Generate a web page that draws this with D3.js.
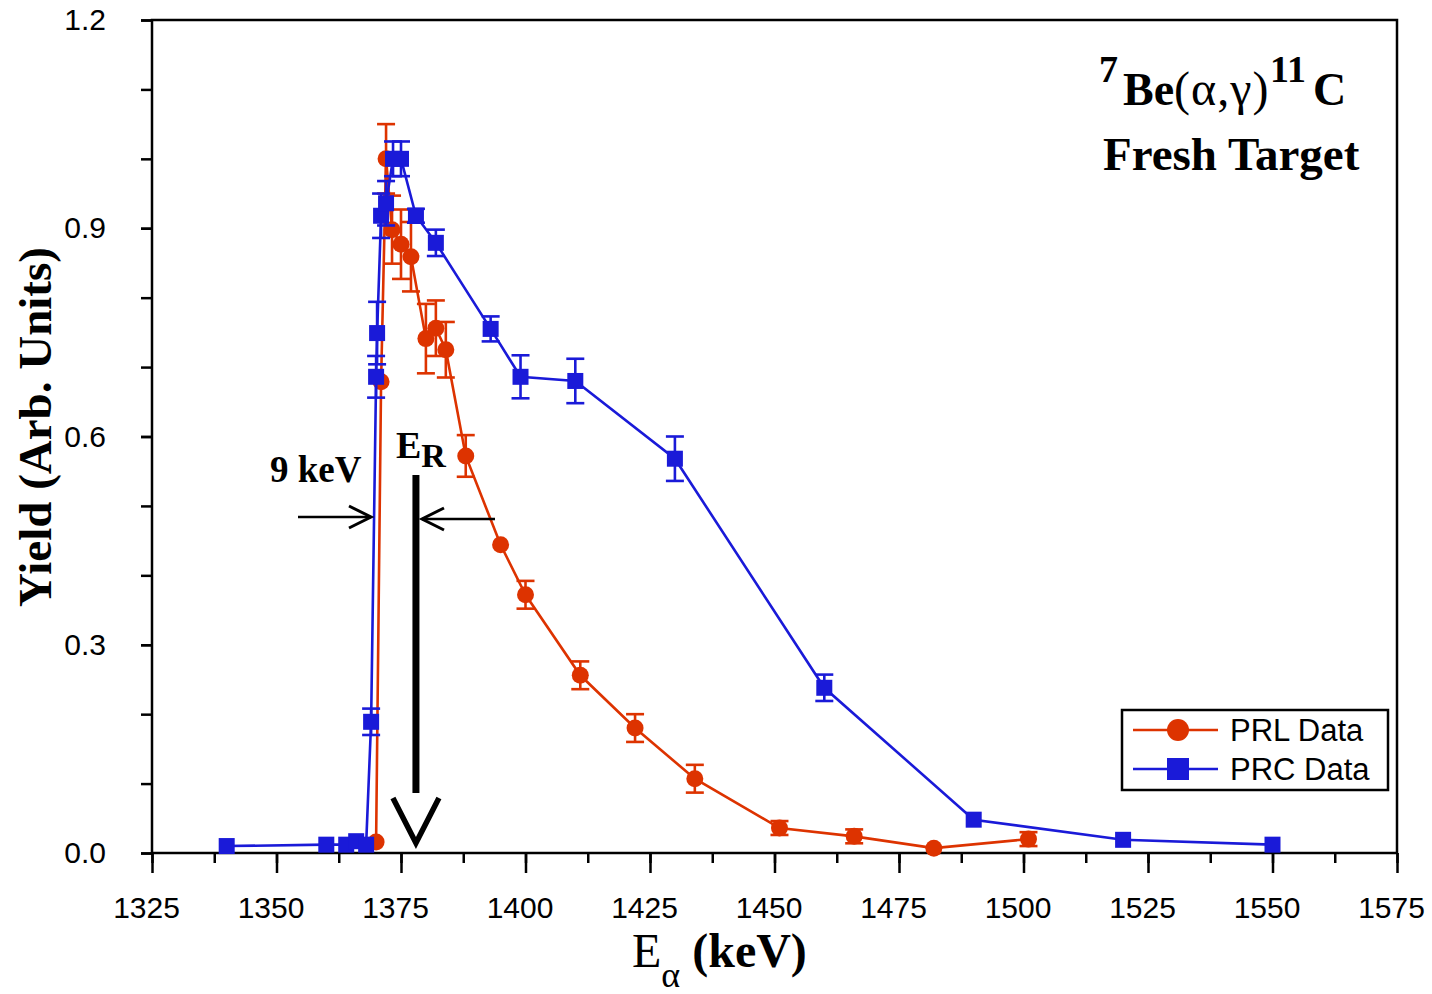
<!DOCTYPE html>
<html><head><meta charset="utf-8">
<script src="https://cdn.jsdelivr.net/npm/d3@7"></script>
<style>body{margin:0;background:#fff}svg{display:block}</style>
</head><body>
<svg id="c" width="1432" height="994"></svg>
<script>
// PRL data (red circles)
const prlE   = [1370, 1371, 1372, 1373.2, 1375, 1377, 1380, 1382, 1384, 1388, 1395, 1400, 1411, 1422, 1434, 1451, 1466, 1482, 1501];
const prlY   = [0.016, 0.679, 1.0, 0.898, 0.877, 0.859, 0.741, 0.756, 0.725, 0.572, 0.444, 0.372, 0.256, 0.180, 0.107, 0.036, 0.024, 0.007, 0.020];
const prlErr = [0, 0, 0.05, 0.049, 0.05, 0.05, 0.05, 0.04, 0.04, 0.03, 0, 0.02, 0.02, 0.02, 0.02, 0.01, 0.01, 0, 0.01];
// PRC data (blue squares)
const prcE   = [1340, 1360, 1364, 1366, 1368, 1369, 1370, 1370.2, 1371, 1372, 1373.4, 1375, 1378, 1382, 1393, 1399, 1410, 1430, 1460, 1490, 1520, 1550];
const prcY   = [0.010, 0.012, 0.012, 0.017, 0.012, 0.189, 0.686, 0.749, 0.918, 0.936, 1.0, 1.0, 0.918, 0.879, 0.755, 0.686, 0.680, 0.568, 0.238, 0.048, 0.019, 0.012];
const prcErr = [0, 0, 0, 0, 0, 0.019, 0.03, 0.045, 0.032, 0.032, 0.025, 0.025, 0.01, 0.019, 0.018, 0.031, 0.032, 0.032, 0.019, 0, 0, 0];
const xTicks = [1325, 1350, 1375, 1400, 1425, 1450, 1475, 1500, 1525, 1550, 1575];
const yTicks = [0.0, 0.3, 0.6, 0.9, 1.2];
const seriesNames = ["PRL Data", "PRC Data"];
const annotER = 1378; // resonance energy marker position (keV)

const RED = "#dd3300", BLUE = "#1a1ad8";
const svg = d3.select("#c");
const L = 152, R = 1397, T = 20, B = 853;
const x = d3.scaleLinear().domain([1325, 1575]).range([L, R]);
const y = d3.scaleLinear().domain([0, 1.2]).range([B, T]);

const serif = "'Liberation Serif','Times New Roman',serif";
const sans = "'Liberation Sans',Arial,sans-serif";

// Axes
const xMinor = d3.range(1325, 1575.1, 12.5);
svg.append("g").attr("transform", `translate(0,${B})`)
  .call(d3.axisBottom(x).tickValues(xMinor).tickSize(10).tickFormat(""))
  .call(g => g.selectAll("line").attr("stroke", "#000").attr("stroke-width", 2.5))
  .call(g => g.select(".domain").remove());
svg.append("g").attr("transform", `translate(0,${B})`)
  .call(d3.axisBottom(x).tickValues(xTicks).tickSize(20).tickPadding(24).tickFormat(d3.format("d")))
  .call(g => g.selectAll("line").attr("stroke", "#000").attr("stroke-width", 2.5))
  .call(g => g.selectAll("text").attr("font-family", sans).attr("font-size", 30).attr("fill", "#000").attr("dx", -6))
  .call(g => g.select(".domain").remove());
const yMinor = d3.range(0, 1.2001, 0.1);
svg.append("g").attr("transform", `translate(${L},0)`)
  .call(d3.axisLeft(y).tickValues(yMinor).tickSize(11).tickFormat(""))
  .call(g => g.selectAll("line").attr("stroke", "#000").attr("stroke-width", 2.5))
  .call(g => g.select(".domain").remove());
svg.append("g").attr("transform", `translate(${L},0)`)
  .call(d3.axisLeft(y).tickValues(yTicks).tickSize(11).tickPadding(35).tickFormat(d3.format(".1f")))
  .call(g => g.selectAll("line").attr("stroke", "#000").attr("stroke-width", 2.5))
  .call(g => g.selectAll("text").attr("font-family", sans).attr("font-size", 30).attr("fill", "#000"))
  .call(g => g.select(".domain").remove());
svg.append("rect").attr("x", L).attr("y", T).attr("width", R - L).attr("height", B - T)
  .attr("fill", "none").attr("stroke", "#000").attr("stroke-width", 2.5);

// Axis titles
svg.append("text").attr("transform", `translate(51,427) rotate(-90)`)
  .attr("text-anchor", "middle").attr("font-family", serif).attr("font-weight", "bold")
  .attr("font-size", 47).text("Yield (Arb. Units)");
const xt = svg.append("text").attr("x", 632).attr("y", 967)
  .attr("font-family", serif).attr("font-size", 48);
xt.append("tspan").text("E");
xt.append("tspan").attr("dy", 20).attr("font-size", 36).text("α");
xt.append("tspan").attr("dy", -20).attr("font-weight", "bold").text(" (keV)");

// Series
function drawSeries(E, Y, Err, color, shape) {
  const pts = E.map((e, i) => ({e, v: Y[i], er: Err[i]}));
  const g = svg.append("g");
  g.append("path").datum(pts).attr("fill", "none").attr("stroke", color).attr("stroke-width", 2.6)
    .attr("d", d3.line().x(d => x(d.e)).y(d => y(d.v)));
  const eb = g.selectAll("g.eb").data(pts.filter(d => d.er > 0)).join("g")
    .attr("stroke", color).attr("stroke-width", 2.6);
  eb.append("line").attr("x1", d => x(d.e)).attr("x2", d => x(d.e))
    .attr("y1", d => y(d.v - d.er)).attr("y2", d => y(d.v + d.er));
  [1, -1].forEach(s => eb.append("line").attr("x1", d => x(d.e) - 9).attr("x2", d => x(d.e) + 9)
    .attr("y1", d => y(d.v + s * d.er)).attr("y2", d => y(d.v + s * d.er)));
  if (shape === "circle") {
    g.selectAll("circle").data(pts).join("circle").attr("cx", d => x(d.e)).attr("cy", d => y(d.v))
      .attr("r", 8.5).attr("fill", color);
  } else {
    g.selectAll("rect.m").data(pts).join("rect").attr("class", "m")
      .attr("x", d => x(d.e) - 8).attr("y", d => y(d.v) - 8).attr("width", 16).attr("height", 16).attr("fill", color);
  }
}
drawSeries(prlE, prlY, prlErr, RED, "circle");
drawSeries(prcE, prcY, prcErr, BLUE, "square");

// Annotations
const ann = svg.append("g").attr("stroke", "#000").attr("fill", "none");
ann.append("line").attr("x1", 298).attr("x2", 370).attr("y1", 517).attr("y2", 517).attr("stroke-width", 2.5);
ann.append("path").attr("d", "M349,506 L371,517 L349,528").attr("stroke-width", 3);
ann.append("line").attr("x1", 422).attr("x2", 495).attr("y1", 519).attr("y2", 519).attr("stroke-width", 2.5);
ann.append("path").attr("d", "M444,508 L422,519 L444,530").attr("stroke-width", 3);
const xr = x(annotER);
ann.append("line").attr("x1", xr).attr("x2", xr).attr("y1", 475).attr("y2", 793).attr("stroke-width", 7);
ann.append("path").attr("d", `M${xr - 23},798 L${xr},843 L${xr + 23},798`).attr("stroke-width", 5.5);
svg.append("text").attr("x", 270).attr("y", 482).attr("font-family", serif).attr("font-weight", "bold")
  .attr("font-size", 37).text("9 keV");
const er = svg.append("text").attr("x", 396).attr("y", 458).attr("font-family", serif).attr("font-weight", "bold")
  .attr("font-size", 38);
er.append("tspan").text("E");
er.append("tspan").attr("dy", 9).attr("font-size", 34).text("R");

// Title
const t1 = svg.append("text").attr("y", 105).attr("font-family", serif).attr("font-weight", "bold")
  .attr("font-size", 46);
t1.append("tspan").attr("x", 1099).attr("y", 82).attr("font-size", 38).text("7");
t1.append("tspan").attr("x", 1123).attr("y", 105).text("Be");
t1.append("tspan").attr("font-weight", "normal").attr("font-size", 48).attr("letter-spacing", 1).text("(α,γ)");
t1.append("tspan").attr("x", 1270).attr("y", 82).attr("font-size", 38).text("11");
t1.append("tspan").attr("x", 1313).attr("y", 105).text("C");
svg.append("text").attr("x", 1103).attr("y", 170).attr("font-family", serif).attr("font-weight", "bold")
  .attr("font-size", 47).text("Fresh Target");

// Legend
const lg = svg.append("g");
lg.append("rect").attr("x", 1122).attr("y", 710).attr("width", 266).attr("height", 80)
  .attr("fill", "#fff").attr("stroke", "#000").attr("stroke-width", 2.5);
[[RED, "circle"], [BLUE, "square"]].forEach(([c, s], i) => {
  const yy = 730 + i * 39;
  lg.append("line").attr("x1", 1133).attr("x2", 1218).attr("y1", yy).attr("y2", yy).attr("stroke", c).attr("stroke-width", 2.6);
  if (s === "circle") lg.append("circle").attr("cx", 1178).attr("cy", yy).attr("r", 11).attr("fill", c);
  else lg.append("rect").attr("x", 1167).attr("y", yy - 11).attr("width", 22).attr("height", 22).attr("fill", c);
  lg.append("text").attr("x", 1230).attr("y", yy + 11).attr("font-family", sans)
    .attr("font-size", 31).text(seriesNames[i]);
});
</script>
</body></html>
